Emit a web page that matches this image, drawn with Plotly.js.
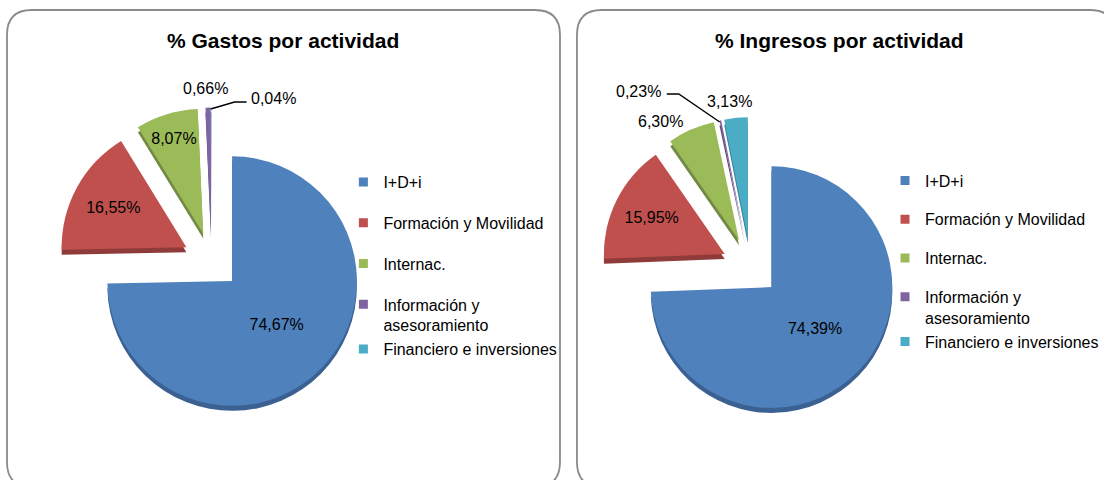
<!DOCTYPE html>
<html>
<head>
<meta charset="utf-8">
<script src="https://cdn.plot.ly/plotly-3.0.1.min.js"></script>
<style>
  html, body { margin: 0; padding: 0; background: #ffffff; }
  #chart { width: 1104px; height: 480px; }
</style>
</head>
<body>
<div id="chart"></div>
<script>
// ---- data ----
const categories = ['I+D+i', 'Formación y Movilidad', 'Internac.', 'Información y<br>asesoramiento', 'Financiero e inversiones'];
const gastosValues = [74.67, 16.55, 8.07, 0.66, 0.04];
const ingresosValues = [74.39, 15.95, 6.30, 0.23, 3.13];
const titleGastos = '% Gastos por actividad';
const titleIngresos = '% Ingresos por actividad';

// ---- styling ----
const W = 1104, H = 480;
const FONT = 'Liberation Sans, Arial, sans-serif';
const colors = ['#4F81BD', '#C0504D', '#9BBB59', '#8064A2', '#4BACC6'];
const sideColors = ['#3B6192', '#8E3B39', '#728A43', '#5E4A79', '#378094'];
// legend grouping: the two-line entry shares its slot with the last one
const legendGroupOf = [0, 1, 2, 3, 3];

const px = x => x / W;
const py = y => 1 - y / H;
const fmt = v => v.toFixed(2).replace('.', ',') + '%';

function roundedRect(x0, y0, x1, y1, r) {
  const P = (x, y) => px(x) + ',' + py(y);
  return 'M' + P(x0 + r, y0) + ' L' + P(x1 - r, y0) + ' Q' + P(x1, y0) + ' ' + P(x1, y0 + r) +
         ' L' + P(x1, y1 - r) + ' Q' + P(x1, y1) + ' ' + P(x1 - r, y1) +
         ' L' + P(x0 + r, y1) + ' Q' + P(x0, y1) + ' ' + P(x0, y1 - r) +
         ' L' + P(x0, y0 + r) + ' Q' + P(x0, y0) + ' ' + P(x0 + r, y0) + ' Z';
}
function polyline(pts) {
  return pts.map((p, i) => (i ? 'L' : 'M') + px(p[0]) + ',' + py(p[1])).join(' ');
}

// pie placement (pixel centre, radius, explode fraction)
function pieDomain(cx, cy, r, pull, dy) {
  const half = r * (1 + pull);
  return {
    x: [px(cx - half), px(cx + half)],
    y: [py(cy + dy + half), py(cy + dy - half)]
  };
}
const leftPie = {cx: 212, cy: 261, r: 125, pull: 0.23};
const rightPie = {cx: 752, cy: 267, r: 121, pull: 0.24};
const depth = 5;

function pieTrace(values, cfg, opts) {
  return Object.assign({
    type: 'pie',
    values: values,
    labels: categories,
    sort: false,
    direction: 'clockwise',
    rotation: 0,
    pull: values.map(() => cfg.pull),
    hoverinfo: 'none',
    showlegend: false,
    domain: pieDomain(cfg.cx, cfg.cy, cfg.r, cfg.pull, 0)
  }, opts);
}

const data = [
  // side (depth) layers
  pieTrace(gastosValues, leftPie, {
    domain: pieDomain(leftPie.cx, leftPie.cy, leftPie.r, leftPie.pull, depth),
    marker: {colors: sideColors, line: {width: 0}}, textinfo: 'none'
  }),
  pieTrace(ingresosValues, rightPie, {
    domain: pieDomain(rightPie.cx, rightPie.cy, rightPie.r, rightPie.pull, depth),
    marker: {colors: sideColors, line: {width: 0}}, textinfo: 'none'
  }),
  // top faces
  pieTrace(gastosValues, leftPie, {
    marker: {colors: colors, line: {width: 0}},
    texttemplate: '%{value:.2f}%',
    textposition: ['inside', 'inside', 'inside', 'none', 'none'],
    insidetextorientation: 'horizontal',
    textfont: {family: FONT, size: 16, color: '#000000'}
  }),
  pieTrace(ingresosValues, rightPie, {
    marker: {colors: colors, line: {width: 0}},
    texttemplate: '%{value:.2f}%',
    textposition: ['inside', 'inside', 'none', 'none', 'none'],
    insidetextorientation: 'horizontal',
    textfont: {family: FONT, size: 16, color: '#000000'}
  })
];

// legend entries (one per category, for each panel)
['legend', 'legend2'].forEach((lg, k) => {
  categories.forEach((c, i) => {
    data.push({
      type: 'scatter', mode: 'markers', x: [null], y: [null],
      name: c, legend: lg, legendgroup: lg + '_' + legendGroupOf[i],
      marker: {symbol: 'square', size: 9, color: colors[i]},
      hoverinfo: 'none', showlegend: true
    });
  });
});

const legendBase = {
  orientation: 'v',
  xanchor: 'left',
  yanchor: 'top',
  bgcolor: 'rgba(0,0,0,0)',
  borderwidth: 0,
  valign: 'top',
  traceorder: 'grouped',
  font: {family: FONT, size: 16, color: '#000000'}
};

const labelFont = {family: FONT, size: 16, color: '#000000'};
function outsideLabel(v, x, y) {
  return {text: fmt(v), xref: 'paper', yref: 'paper', x: px(x), y: py(y),
          xanchor: 'center', yanchor: 'middle', showarrow: false, font: labelFont};
}

const layout = {
  width: W,
  height: H,
  margin: {l: 0, r: 0, t: 0, b: 0},
  paper_bgcolor: '#ffffff',
  plot_bgcolor: 'rgba(0,0,0,0)',
  separators: ',.',
  font: {family: FONT, size: 16, color: '#000000'},
  showlegend: true,
  xaxis: {visible: false, fixedrange: true},
  yaxis: {visible: false, fixedrange: true},
  legend: Object.assign({}, legendBase, {x: px(344), y: py(165), tracegroupgap: 17}),
  legend2: Object.assign({}, legendBase, {x: px(887), y: py(163.5), tracegroupgap: 15}),
  annotations: [
    {text: '<b>' + titleGastos + '</b>', xref: 'paper', yref: 'paper', x: px(283.5), y: py(40),
     xanchor: 'center', yanchor: 'middle', showarrow: false, font: {family: FONT, size: 21, color: '#000000'}},
    {text: '<b>' + titleIngresos + '</b>', xref: 'paper', yref: 'paper', x: px(841.5), y: py(40),
     xanchor: 'center', yanchor: 'middle', showarrow: false, font: {family: FONT, size: 21, color: '#000000'}},
    outsideLabel(gastosValues[3], 205.5, 88.5),
    outsideLabel(gastosValues[4], 273.5, 98.5),
    outsideLabel(ingresosValues[2], 661.5, 121.5),
    outsideLabel(ingresosValues[3], 639.5, 91.5),
    outsideLabel(ingresosValues[4], 730.5, 101.5)
  ],
  shapes: [
    {type: 'path', xref: 'paper', yref: 'paper', layer: 'below', path: roundedRect(7, 10, 561, 487, 25),
     line: {color: '#8a8a8a', width: 1.8}, fillcolor: 'rgba(255,255,255,0)'},
    {type: 'path', xref: 'paper', yref: 'paper', layer: 'below', path: roundedRect(578, 10, 1117, 487, 25),
     line: {color: '#8a8a8a', width: 1.8}, fillcolor: 'rgba(255,255,255,0)'},
    // leader lines
    {type: 'path', xref: 'paper', yref: 'paper', layer: 'above',
     path: polyline([[211, 109], [235, 102], [247, 102]]), line: {color: '#000000', width: 1.4}},
    {type: 'path', xref: 'paper', yref: 'paper', layer: 'above',
     path: polyline([[668, 94], [680, 94], [721, 122]]), line: {color: '#000000', width: 1.4}}
  ]
};

Plotly.newPlot('chart', data, layout, {staticPlot: true, displayModeBar: false});
</script>
</body>
</html>
